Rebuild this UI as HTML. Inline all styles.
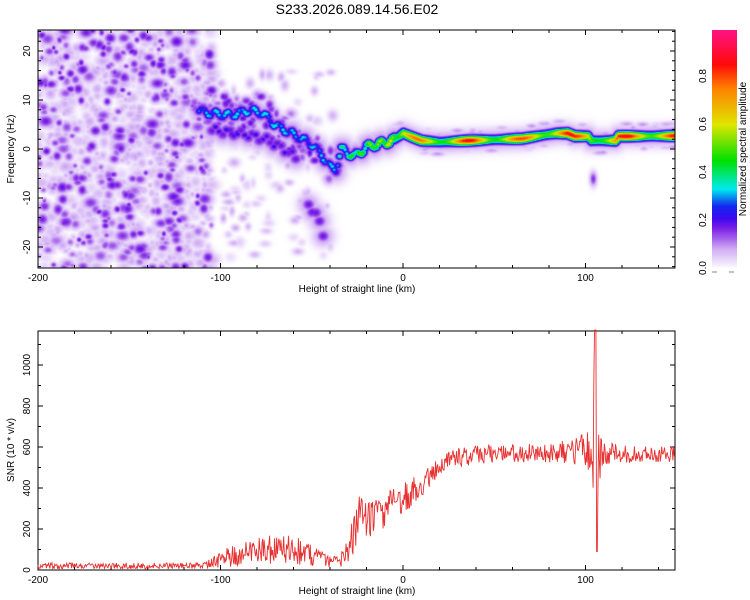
<!DOCTYPE html>
<html><head><meta charset="utf-8">
<style>
body{margin:0;background:#fff;width:750px;height:600px;overflow:hidden;font-family:"Liberation Sans",sans-serif;}
#wrap{position:relative;width:750px;height:600px;}
canvas{position:absolute;}
svg{position:absolute;left:0;top:0;}
</style></head>
<body>
<div id="wrap">
<canvas id="spec" width="637" height="238" style="left:38px;top:30px"></canvas>
<canvas id="cbar" width="25" height="238" style="left:712px;top:30px"></canvas>
<svg id="svg" width="750" height="600"></svg>
</div>
<script>
// ---- data ----
const ridgeH = [-112,-105,-95,-85,-78,-70,-60,-50,-45,-40,-37,-34,-27,-20,-12,-5,0,5,10,20,35,50,65,78,84,90,94,101,103,116,118,130,150];
const ridgeF = [8,7.3,7,8,7.5,5,3,1,-1,-3.7,-4,0,-1.4,0.5,1.2,2,3.3,2.5,1.8,1.5,1.8,2,2.2,3,3.3,3.3,2.7,2.7,1.8,1.8,2.7,2.7,2.8];
const ridgeA = [0.3,0.36,0.36,0.36,0.36,0.36,0.34,0.34,0.34,0.34,0.36,0.42,0.5,0.55,0.6,0.7,0.78,0.78,0.8,0.82,0.9,0.85,0.82,0.9,0.92,0.92,0.86,0.88,0.8,0.85,0.9,0.92,0.9];
const branch2H = [-105,-95,-85,-75,-65,-58];
const branch2F = [4,3.5,3,2,0,-2];
const branch2A = [0.24,0.24,0.24,0.23,0.23,0.21];
const branch3H = [-52,-47,-43];
const branch3F = [-11,-14,-18];
const branch3A = [0.17,0.18,0.18];
const snrH = [-200,-180,-160,-140,-120,-110,-100,-90,-80,-70,-60,-50,-45,-40,-35,-30,-25,-20,-15,-10,-5,0,5,10,15,20,25,30,40,50,60,70,80,90,100,103,105,107,110,120,130,140,150];
const snrV = [20,20,20,20,20,25,50,80,100,100,100,70,55,40,40,90,230,240,270,290,320,340,380,410,460,510,540,550,560,570,570,570,570,580,590,590,620,560,565,565,565,565,565];
const snrN = [15,15,15,15,15,15,40,60,70,70,70,55,40,25,30,70,130,110,100,90,80,80,70,60,50,45,45,45,45,45,45,45,50,60,80,150,400,200,60,45,40,40,40];
const xTicks = [-200,-100,0,100];
const fTicks = [20,10,0,-10,-20];
const snrTicks = [0,200,400,600,800,1000];
const cbTicks = [0.0,0.2,0.4,0.6,0.8];

// ---- scales ----
const X0=38,X1=675;
const xs=h=>X0+(h+200)*1.825;
const yF=f=>149-f*4.9;
const yS=v=>570-v*0.205;
const yC=v=>268-v*240;
function interp(H,V,h){if(h<=H[0])return V[0];for(let i=1;i<H.length;i++){if(h<=H[i]){const t=(h-H[i-1])/(H[i]-H[i-1]);return V[i-1]+t*(V[i]-V[i-1]);}}return V[V.length-1];}
let seed=12345;function rnd(){seed|=0;seed=seed+0x6D2B79F5|0;let t=Math.imul(seed^seed>>>15,1|seed);t=t+Math.imul(t^t>>>7,61|t)^t;return((t^t>>>14)>>>0)/4294967296;}

// ---- colormap ----
const cmS=[[0,255,255,255],[0.02,242,232,252],[0.08,210,175,245],[0.13,160,90,235],[0.17,120,30,230],[0.21,60,10,240],[0.26,20,40,240],[0.33,0,235,240],[0.45,0,225,0],[0.6,225,230,0],[0.75,255,130,0],[0.85,255,10,10],[1,255,20,140]];
function cmap(v){v=Math.max(0,Math.min(1,v));for(let i=1;i<cmS.length;i++){if(v<=cmS[i][0]){const a=cmS[i-1],b=cmS[i],t=(v-a[0])/(b[0]-a[0]);return[a[1]+t*(b[1]-a[1]),a[2]+t*(b[2]-a[2]),a[3]+t*(b[3]-a[3])];}}return cmS[cmS.length-1].slice(1);}

// ---- spectrogram field ----
const W=637,Hh=238,field=new Float32Array(W*Hh);
function splat(px,py,a,sx,sy){px-=X0;py-=30;const rx=Math.ceil(sx*3),ry=Math.ceil(sy*3);for(let y=Math.max(0,Math.floor(py-ry));y<=Math.min(Hh-1,py+ry);y++){for(let x=Math.max(0,Math.floor(px-rx));x<=Math.min(W-1,px+rx);x++){const dx=(x-px)/sx,dy=(y-py)/sy;const v=a*Math.exp(-0.5*(dx*dx+dy*dy));const k=y*W+x;if(v>field[k])field[k]=v;}}}
// background noise blobs (texture)
for(let i=0;i<1400;i++){const h=-200+rnd()*95,f=-25+rnd()*50;const r=rnd();const a=r<0.78?0.03+rnd()*0.06:0.12+rnd()*0.07;const s=2+rnd()*2.5;splat(xs(h),yF(f),a,s*(0.8+rnd()*0.6),s);}
for(let i=0;i<110;i++){const h=-112+rnd()*75,f=-22+rnd()*38;splat(xs(h),yF(f),0.03+rnd()*0.06,2+rnd()*2,2+rnd()*2);}
for(let i=0;i<110;i++){const h=-110+rnd()*75,f=interp(ridgeH,ridgeF,h)+(rnd()-0.5)*8;splat(xs(h),yF(f),0.08+rnd()*0.12,2.5+rnd()*2,2.5+rnd()*2);}
for(let i=0;i<150;i++){const h=-35+rnd()*185,f=interp(ridgeH,ridgeF,h)+(rnd()-0.5)*5;splat(xs(h),yF(f),0.04+rnd()*0.06,3+rnd()*3,2);}
splat(xs(104),yF(-6),0.16,2.5,5);
function ridge(H,V,A,step,mod,sy){for(let h=H[0];h<=H[H.length-1];h+=step){const f=interp(H,V,h),a=interp(H,A,h);const m=mod?(0.65+0.35*Math.abs(Math.sin(h*0.6))):(0.78+0.22*Math.sin(h*0.22));const j=mod?(Math.sin(h*0.9)*0.7):0;splat(xs(h),yF(f+j),0.12,7,7);splat(xs(h),yF(f+j),0.18,5,4.5);splat(xs(h),yF(f+j),a*m,3,sy);}}
ridge(ridgeH.slice(0,16),ridgeF.slice(0,16),ridgeA.slice(0,16),1,true,2.6);
ridge(ridgeH.slice(15),ridgeF.slice(15),ridgeA.slice(15),1,false,3.4);
ridge(branch2H,branch2F,branch2A,2,true,2.4);
ridge(branch3H,branch3F,branch3A,2,true,2.4);
const ctx=document.getElementById('spec').getContext('2d');const img=ctx.createImageData(W,Hh);
for(let k=0;k<W*Hh;k++){const c=cmap(field[k]);img.data[4*k]=c[0];img.data[4*k+1]=c[1];img.data[4*k+2]=c[2];img.data[4*k+3]=255;}
ctx.putImageData(img,0,0);
const cb=document.getElementById('cbar').getContext('2d');
for(let y=0;y<238;y++){const c=cmap((268-(30+y))/240);cb.fillStyle=`rgb(${c[0]|0},${c[1]|0},${c[2]|0})`;cb.fillRect(0,y,25,1);}

// ---- svg ----
const svg=document.getElementById('svg');const NS='http://www.w3.org/2000/svg';
function el(t,a,p){const e=document.createElementNS(NS,t);for(const k in a)e.setAttribute(k,a[k]);(p||svg).appendChild(e);return e;}
function txt(x,y,s,size,anchor,rot){const e=el('text',{x:x,y:y,'font-size':size,'text-anchor':anchor||'middle',fill:'#000','font-family':'Liberation Sans, sans-serif'});if(rot)e.setAttribute('transform',`rotate(-90 ${x} ${y})`);e.textContent=s;return e;}
const title=txt(357,14,'S233.2026.089.14.56.E02',14);


function frame(y0,y1,name){const r=el('rect',{x:X0,y:y0,width:X1-X0,height:y1-y0,fill:'none',stroke:'#000','stroke-width':1});


for(let h=-200;h<=150;h+=20){const x=xs(h),L=(h%100===0)?5:3;el('line',{x1:x,x2:x,y1:y1,y2:y1-L,stroke:'#000'});el('line',{x1:x,x2:x,y1:y0,y2:y0+L,stroke:'#000'});}
xTicks.forEach(h=>{const t=txt(xs(h),y1+13,String(h),10);

});
const xl=txt(357,y1+24,'Height of straight line (km)',10);

}
// top
frame(30,268,'spectrogram-frame');
for(let f=-24;f<=24;f+=2){const y=yF(f),L=(f%10===0)?5:3;el('line',{x1:X0,x2:X0+L,y1:y,y2:y,stroke:'#000'});el('line',{x1:X1,x2:X1-L,y1:y,y2:y,stroke:'#000'});}
fTicks.forEach(f=>{const t=txt(30,yF(f),String(f),10,'middle',true);

});
const yl1=txt(14,149,'Frequency (Hz)',10,'middle',true);


// colorbar ticks
cbTicks.forEach(v=>{const t=txt(706,yC(v),v.toFixed(1),10,'middle',true);

});
el('line',{x1:712,x2:717,y1:272,y2:272,stroke:'#888'});el('line',{x1:729,x2:734,y1:272,y2:272,stroke:'#888'});
const cbl=txt(746,149,'Normalized spectral amplitude',10,'middle',true);


// bottom
frame(331,570,'snr-frame');
for(let v=0;v<=1150;v+=100){const y=yS(v),L=(v%200===0)?5:3;el('line',{x1:X0,x2:X0+L,y1:y,y2:y,stroke:'#000'});el('line',{x1:X1,x2:X1-L,y1:y,y2:y,stroke:'#000'});}
snrTicks.forEach(v=>{const t=txt(30,yS(v),String(v),10,'middle',true);

});
const yl2=txt(14,450,'SNR (10 * v/v)',10,'middle',true);


// SNR line
let d='';seed=777;
for(let px=X0;px<=X1;px+=0.7){const h=(px-X0)/1.825-200;let v=interp(snrH,snrV,h)+(rnd()-0.5)*2*interp(snrH,snrN,h);if(Math.abs(h-105.5)<0.6)v=1170;if(Math.abs(h-106.3)<0.5)v=90;v=Math.max(0,Math.min(1170,v));d+=(d?'L':'M')+px.toFixed(1)+','+yS(v).toFixed(1);}
const line=el('path',{d:d,fill:'none',stroke:'#e83030','stroke-width':0.9});


</script>
</body></html>
